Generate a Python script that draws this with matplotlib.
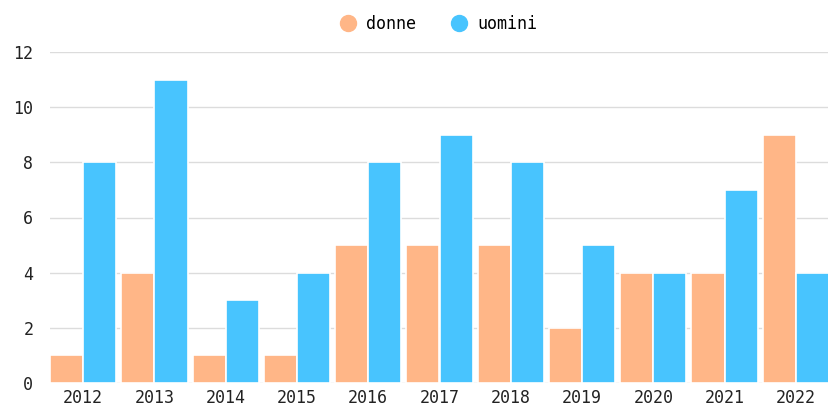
import numpy as np
import matplotlib
matplotlib.use("Agg")
import matplotlib.pyplot as plt
from matplotlib.lines import Line2D

years = ["2012", "2013", "2014", "2015", "2016", "2017", "2018", "2019", "2020", "2021", "2022"]
donne = [1, 4, 1, 1, 5, 5, 5, 2, 4, 4, 9]
uomini = [8, 11, 3, 4, 8, 9, 8, 5, 4, 7, 4]

ORANGE = "#FFB687"
BLUE = "#48C4FE"

plt.rcParams["font.family"] = ["DejaVu Sans Mono"]

fig = plt.figure(figsize=(8.29, 4.07), dpi=100)
ax = fig.add_axes([50 / 829, 24 / 407, 779 / 829, 331 / 407])

x = np.arange(len(years))
w = 0.465
ax.bar(x - w / 2, donne, width=w, color=ORANGE, edgecolor="white", linewidth=1.2, zorder=3)
ax.bar(x + w / 2, uomini, width=w, color=BLUE, edgecolor="white", linewidth=1.2, zorder=3)

ax.set_xlim(-w, len(years) - 1 + w)
ax.set_ylim(0, 12)
ax.set_yticks(range(0, 13, 2))
ax.set_xticks(x)
ax.set_xticklabels(years)
ax.grid(axis="y", color="#dcdcdc", linewidth=1, zorder=0)
for s in ax.spines.values():
    s.set_visible(False)
ax.tick_params(length=0, labelsize=12, colors="#222222")
ax.tick_params(axis="y", pad=12)
ax.tick_params(axis="x", pad=4)

handles = [
    Line2D([], [], marker="o", linestyle="", markersize=11.5, color=ORANGE, label="donne"),
    Line2D([], [], marker="o", linestyle="", markersize=11.5, color=BLUE, label="uomini"),
]
fig.legend(handles=handles, loc="upper center", bbox_to_anchor=(0.529, 1.0), ncol=2,
           frameon=False, fontsize=12, handletextpad=0.58, columnspacing=2.1,
           handlelength=1.0)

fig.savefig("out.png", dpi=100)
